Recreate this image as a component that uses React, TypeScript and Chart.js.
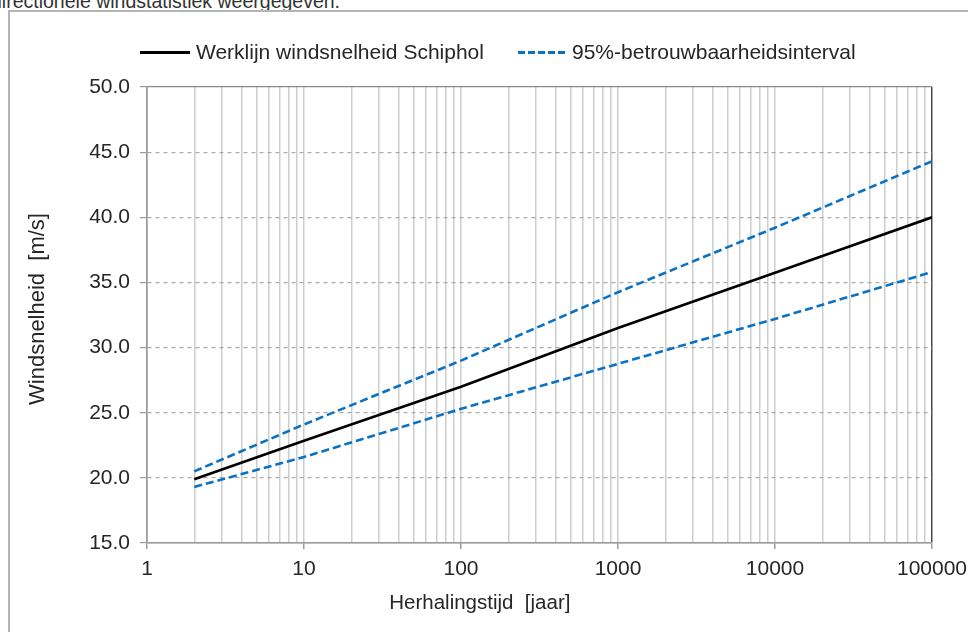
import React, { useEffect, useRef } from 'react';
import { Chart, registerables } from 'chart.js';

Chart.register(...registerables);

// ---- data ----
const returnPeriods = [2, 10, 100, 1000, 10000, 100000];
const werklijn = [19.9, 22.85, 27.0, 31.5, 35.75, 40.0];
const upperBound = [20.5, 24.1, 29.0, 34.25, 39.2, 44.3];
const lowerBound = [19.3, 21.6, 25.3, 28.75, 32.2, 35.8];
const yTickValues = [15, 20, 25, 30, 35, 40, 45, 50];
const xMajorTicks = [1, 10, 100, 1000, 10000, 100000];
const legendLabels = ['Werklijn windsnelheid Schiphol', '95%-betrouwbaarheidsinterval'];
const xTitle = 'Herhalingstijd  [jaar]';
const yTitle = 'Windsnelheid  [m/s]';
const captionText = 'directionele windstatistiek weergegeven.';

const FONT = "'Liberation Sans', Arial, sans-serif";
const TEXT = '#262626';
const BLUE = '#0a72c4';

const xAllTicks: number[] = [];
xMajorTicks.forEach((d, i) => {
  xAllTicks.push(d);
  if (i < xMajorTicks.length - 1) {
    for (let m = 2; m <= 9; m++) xAllTicks.push(d * m);
  }
});

const pts = (ys: number[]) => returnPeriods.map((x, i) => ({ x, y: ys[i] }));

const titlePlugin = {
  id: 'axisTitles',
  afterDraw(chart: any) {
    const { ctx, chartArea: a } = chart;
    ctx.save();
    ctx.fillStyle = TEXT;
    ctx.textAlign = 'center';
    ctx.textBaseline = 'middle';
    ctx.font = `20.5px ${FONT}`;
    ctx.fillText(xTitle, a.left + (a.right - a.left) * 0.424, a.bottom + 60);
    ctx.font = `22px ${FONT}`;
    ctx.translate(a.left - 109, (a.top + a.bottom) / 2 - 6);
    ctx.rotate(-Math.PI / 2);
    ctx.fillText(yTitle, 0, 0);
    ctx.restore();
  },
};

export default function App() {
  const ref = useRef<HTMLCanvasElement | null>(null);

  useEffect(() => {
    document.body.style.margin = '0';
    if (!ref.current) return;
    const chart = new Chart(ref.current, {
      type: 'line',
      data: {
        datasets: [
          {
            label: legendLabels[1],
            data: pts(upperBound),
            borderColor: BLUE,
            borderWidth: 2.6,
            borderDash: [8, 4],
            pointRadius: 0,
            fill: false,
          },
          {
            label: legendLabels[1] + ' (onder)',
            data: pts(lowerBound),
            borderColor: BLUE,
            borderWidth: 2.6,
            borderDash: [8, 4],
            pointRadius: 0,
            fill: false,
          },
          {
            label: legendLabels[0],
            data: pts(werklijn),
            borderColor: '#000000',
            borderWidth: 2.6,
            pointRadius: 0,
            fill: false,
          },
        ],
      },
      options: {
        animation: false,
        responsive: true,
        maintainAspectRatio: false,
        layout: { padding: { left: 30, right: 36, top: 87, bottom: 49 } },
        plugins: { legend: { display: false }, tooltip: { enabled: false } },
        scales: {
          x: {
            type: 'logarithmic',
            min: 1,
            max: 100000,
            afterBuildTicks: (s: any) => {
              s.ticks = xAllTicks.map((v) => ({ value: v }));
            },
            afterFit: (s: any) => {
              s.height = 40;
              s.paddingLeft = 0;
              s.paddingRight = 0;
            },
            ticks: {
              autoSkip: false,
              maxRotation: 0,
              padding: 8,
              color: TEXT,
              font: { family: FONT, size: 21 },
              callback: (v: any) => (xMajorTicks.includes(Number(v)) ? String(v) : ''),
            },
            grid: {
              color: (c: any) => {
                const v = c.tick ? c.tick.value : 0;
                if (v === 100000) return '#4a4a4a';
                if (v === 1) return '#9a9a9a';
                return '#cdcdcd';
              },
              lineWidth: 1.5,
              tickLength: 6,
              tickColor: (c: any) =>
                c.tick && xMajorTicks.includes(c.tick.value) ? '#9a9a9a' : 'rgba(0,0,0,0)',
            },
            border: { display: true, color: '#9a9a9a', width: 1.5 },
          },
          y: {
            type: 'linear',
            min: 15,
            max: 50,
            afterBuildTicks: (s: any) => {
              s.ticks = yTickValues.map((v) => ({ value: v }));
            },
            afterFit: (s: any) => {
              s.width = 117;
            },
            ticks: {
              padding: 10,
              color: TEXT,
              font: { family: FONT, size: 21 },
              callback: (v: any) => Number(v).toFixed(1),
            },
            grid: {
              color: (c: any) => {
                const v = c.tick ? c.tick.value : 0;
                if (v === 50) return '#8a8a8a';
                if (v === 15) return '#9a9a9a';
                return '#a9a9a9';
              },
              lineWidth: 1.2,
              tickLength: 7,
              tickColor: '#9a9a9a',
            },
            border: {
              display: true,
              color: '#9a9a9a',
              width: 1.5,
              dash: (c: any) =>
                c.tick && c.tick.value !== 15 && c.tick.value !== 50 ? [4, 4] : [],
            },
          },
        },
      },
      plugins: [titlePlugin],
    } as any);
    return () => chart.destroy();
  }, []);

  return (
    <div
      style={{
        position: 'relative',
        width: 968,
        height: 632,
        overflow: 'hidden',
        background: '#ffffff',
        fontFamily: FONT,
        color: TEXT,
      }}
    >
      <div
        style={{
          position: 'absolute',
          left: -9,
          top: -10,
          fontSize: 19.5,
          whiteSpace: 'nowrap',
          color: '#333',
        }}
      >
        {captionText}
      </div>
      <div
        style={{
          position: 'absolute',
          left: 8,
          top: 10,
          width: 1000,
          height: 700,
          border: '2px solid #b4b4b4',
        }}
      />
      <div style={{ position: 'absolute', left: 0, top: 0, width: 968, height: 632 }}>
        <canvas ref={ref} />
      </div>
      <div style={{ position: 'absolute', left: 140, top: 51, width: 50, height: 3, background: '#000' }} />
      <div
        style={{
          position: 'absolute',
          left: 196,
          top: 40,
          fontSize: 21,
          lineHeight: '24px',
          whiteSpace: 'nowrap',
        }}
      >
        {legendLabels[0]}
      </div>
      <div
        style={{
          position: 'absolute',
          left: 518,
          top: 51,
          width: 50,
          height: 3,
          background: `repeating-linear-gradient(to right, ${BLUE} 0 7px, transparent 7px 10px)`,
        }}
      />
      <div
        style={{
          position: 'absolute',
          left: 572,
          top: 40,
          fontSize: 21,
          lineHeight: '24px',
          whiteSpace: 'nowrap',
        }}
      >
        {legendLabels[1]}
      </div>
    </div>
  );
}
